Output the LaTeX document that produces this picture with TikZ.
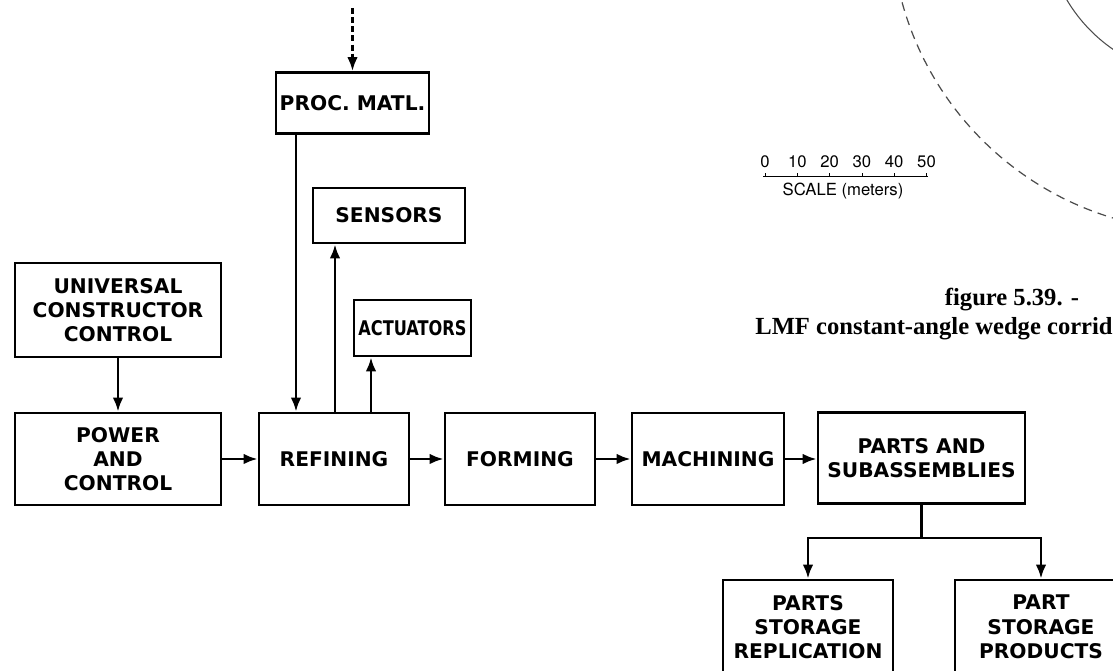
\documentclass[tikz,border=0pt]{standalone}
\usepackage{fontspec}
\usepackage{graphicx}
\usetikzlibrary{arrows.meta}
\newfontfamily\blkfont{DejaVu Sans}
\newfontfamily\sclfont{TeX Gyre Heros}
\newfontfamily\capfont{Liberation Serif}

\begin{document}
\begin{tikzpicture}[x=0.02cm, y=-0.02cm,
    blk/.style={draw, line width=1.5pt, align=center, inner sep=0pt,
        font=\blkfont\bfseries\fontsize{11.5}{13.8}\selectfont},
    arr/.style={line width=1.5pt, -{Latex[length=8pt,width=6pt]}},
    scl/.style={font=\sclfont\fontsize{9.5}{11}\selectfont, inner sep=0pt, anchor=base},
    captxt/.style={font=\capfont\bfseries\fontsize{14}{16}\selectfont, inner sep=0pt}]
    % 画布范围
    \useasboundingbox (0,0) rectangle (1113,671);
    \clip (0,0) rectangle (1113,671);

    % 右上角：同心圆弧
    \draw[gray!60!black, line width=0.6pt] (1202,-80) circle[radius=3.14cm];
    \draw[gray!60!black, line width=0.7pt, dash pattern=on 5pt off 3.5pt]
        (1202,-80) circle[radius=6.22cm];

    % 比例尺
    \foreach \v [count=\i from 0] in {0,10,20,30,40,50}
        \node[scl] (s\v) at (765+32.3*\i, 168) {\v};
    \draw[line width=0.5pt] (763,176) -- (928,176);
    \foreach \i in {0,...,5}
        \draw[line width=0.4pt] (765+32.3*\i,176) -- ++(0,-2.5);
    \node[scl] (sclabel) at (843,196) {SCALE (meters)};

    % 图题
    \node[captxt, anchor=base] (figno) at (1012,306) {figure 5.39. -};
    \node[captxt, anchor=base west] (figtitle) at (755,335) {LMF constant-angle wedge corrido};

    % 方框
    \node[blk, minimum width=3.06cm, minimum height=1.22cm] (procmatl) at (352.5,103) {PROC.\ MATL.};
    \node[blk, minimum width=3.04cm, minimum height=1.1cm] (sensors) at (389,215.5) {SENSORS};
    \node[blk, minimum width=4.12cm, minimum height=1.88cm] (ucc) at (118,310)
        {UNIVERSAL\\CONSTRUCTOR\\CONTROL};
    \node[blk, minimum width=2.34cm, minimum height=1.12cm] (actuators) at (412.5,328)
        {\scalebox{0.8}[1]{ACTUATORS}};
    \node[blk, minimum width=4.12cm, minimum height=1.84cm] (power) at (118,459)
        {POWER\\AND\\CONTROL};
    \node[blk, minimum width=3.0cm, minimum height=1.84cm] (refine) at (334,459) {REFINING};
    \node[blk, minimum width=3.0cm, minimum height=1.84cm] (forming) at (520,459) {FORMING};
    \node[blk, minimum width=3.04cm, minimum height=1.84cm] (machining) at (708,459) {MACHINING};
    \node[blk, minimum width=4.14cm, minimum height=1.82cm] (parts) at (921.5,458)
        {PARTS AND\\SUBASSEMBLIES};
    \node[blk, minimum width=3.4cm, minimum height=1.88cm] (storerep) at (808,627)
        {PARTS\\STORAGE\\REPLICATION};
    \node[blk, minimum width=3.44cm, minimum height=1.88cm] (storeprod) at (1041,627)
        {PART\\STORAGE\\PRODUCTS};

    % 虚线输入
    \coordinate (feed) at (352.5,8);
    \draw[arr, dash pattern=on 3.4pt off 1.8pt] (feed) -- (procmatl.north);

    % 精炼部分的竖直连线
    \draw[arr] (296,0 |- procmatl.south) -- (296,0 |- refine.north);
    \draw[arr] (335,0 |- refine.north) -- (335,0 |- sensors.south);
    \draw[arr] (371,0 |- refine.north) -- (371,0 |- actuators.south);
    \draw[arr] (ucc.south) -- (power.north);

    % 主流程
    \draw[arr] (power.east) -- (refine.west);
    \draw[arr] (refine.east) -- (forming.west);
    \draw[arr] (forming.east) -- (machining.west);
    \draw[arr] (machining.east) -- (machining.east -| parts.west);

    % 分支
    \coordinate (split) at (parts.south |- 0,538);
    \draw[line width=1.5pt] (parts.south) -- (split);
    \draw[arr] (split) -| (storerep.north);
    \draw[arr] (split) -| (storeprod.north);
\end{tikzpicture}
\end{document}
